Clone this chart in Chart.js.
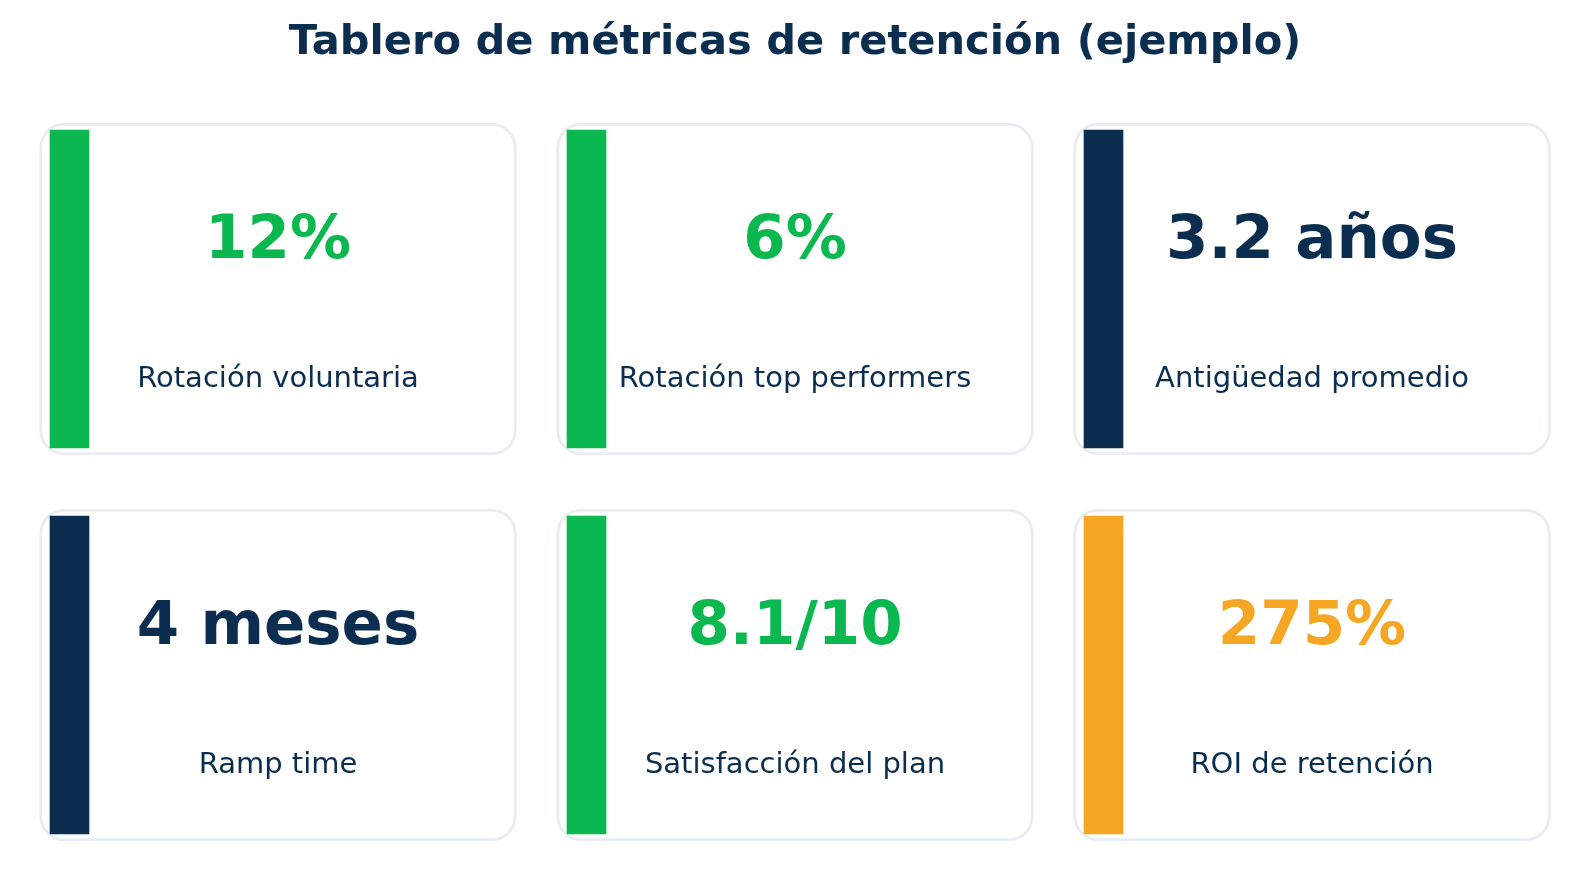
<!DOCTYPE html>
<html>
<head>
<meta charset="utf-8">
<script src="https://cdn.jsdelivr.net/npm/chart.js@4.4.1/dist/chart.umd.min.js"></script>
<style>
  body { margin: 0; background: #ffffff; }
  #wrap { width: 1589px; height: 876px; position: relative; }
</style>
</head>
<body>
<div id="wrap"><canvas id="kpi-chart"></canvas></div>
<script>
// metric cards, read left to right, top to bottom
var metricLabels = ['Rotación voluntaria', 'Rotación top performers', 'Antigüedad promedio',
                    'Ramp time', 'Satisfacción del plan', 'ROI de retención'];
var metricValues = ['12%', '6%', '3.2 años', '4 meses', '8.1/10', '275%'];
var metricStatus = ['good', 'good', 'neutral', 'neutral', 'good', 'warn'];

var statusColors = { good: '#0bb84f', neutral: '#0b2d4f', warn: '#f5a623' };
var NAVY = '#0b2d4f';

// layout, in pixels, converted to scale units below
var PITCH_X = 517, PITCH_Y = 386;
var CARD_W = 477, CARD_H = 332;
var STRIPE_W = 39, STRIPE_H = 318, STRIPE_LEFT = 10.5; // stripe starts this far from card edge

var cardMargin = (PITCH_Y - CARD_H) / 2 / PITCH_Y;
var stripeMargin = (PITCH_Y - STRIPE_H) / 2 / PITCH_Y;
var stripeShift = (STRIPE_LEFT + STRIPE_W / 2 - CARD_W / 2) / PITCH_X;

var cards = [], stripes = [], stripeColors = [];
for (var i = 0; i < metricLabels.length; i++) {
    var col = i % 3;
    var row = Math.floor(i / 3);
    cards.push({ x: col, y: [row + cardMargin, row + 1 - cardMargin] });
    stripes.push({ x: col + stripeShift, y: [row + stripeMargin, row + 1 - stripeMargin] });
    stripeColors.push(statusColors[metricStatus[i]]);
}

var cardText = {
    id: 'cardText',
    afterDatasetsDraw: function (chart) {
        var ctx = chart.ctx;
        var xs = chart.scales.x, ys = chart.scales.y;
        ctx.save();
        ctx.textAlign = 'center';
        ctx.textBaseline = 'alphabetic';
        for (var i = 0; i < metricLabels.length; i++) {
            var col = i % 3;
            var row = Math.floor(i / 3);
            var cx = xs.getPixelForValue(col);
            ctx.font = 'bold 61px "DejaVu Sans"';
            ctx.fillStyle = statusColors[metricStatus[i]];
            ctx.fillText(metricValues[i], cx, ys.getPixelForValue(row + 0.4184));
            ctx.font = '29px "DejaVu Sans"';
            ctx.fillStyle = NAVY;
            ctx.fillText(metricLabels[i], cx, ys.getPixelForValue(row + 0.753));
        }
        ctx.restore();
    }
};

new Chart(document.getElementById('kpi-chart'), {
    type: 'bar',
    data: {
        datasets: [{
            data: stripes,
            backgroundColor: stripeColors,
            barThickness: STRIPE_W,
            borderWidth: 0,
            order: 1
        }, {
            data: cards,
            backgroundColor: '#ffffff',
            borderColor: '#e9edf2',
            borderWidth: 3,
            borderRadius: 25,
            borderSkipped: false,
            barThickness: CARD_W,
            order: 2
        }]
    },
    options: {
        responsive: true,
        maintainAspectRatio: false,
        animation: false,
        layout: { padding: { left: 19.5, right: 18.5, top: 0, bottom: 8 } },
        scales: {
            x: { type: 'linear', min: -0.5, max: 2.5, offset: false, display: false },
            y: { type: 'linear', min: 0, max: 2, reverse: true, offset: false, display: false }
        },
        datasets: { bar: { grouped: false } },
        plugins: {
            legend: { display: false },
            tooltip: { enabled: false },
            title: {
                display: true,
                text: 'Tablero de métricas de retención (ejemplo)',
                color: NAVY,
                font: { family: '"DejaVu Sans"', size: 41.6, weight: 'bold', lineHeight: 1.2 },
                padding: { top: 18, bottom: 28.1 }
            }
        }
    },
    plugins: [cardText]
});
</script>
</body>
</html>
